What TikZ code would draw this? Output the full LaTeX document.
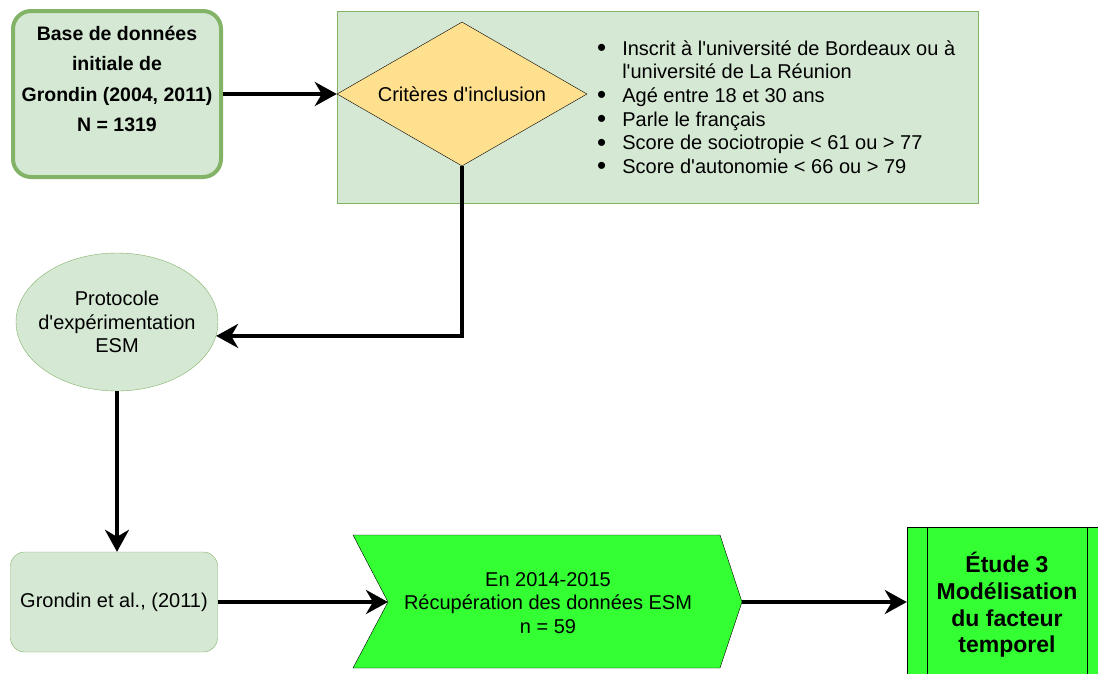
\documentclass[tikz,border=0pt]{standalone}
\usepackage{fontspec}
\setmainfont{Liberation Sans}[Ligatures=TeXOff]
\usepackage{xcolor}
\usetikzlibrary{arrows.meta,shapes.geometric}

\definecolor{paleGreen}{HTML}{D5E8D4}
\definecolor{edgeGreen}{HTML}{82B366}
\definecolor{critYellow}{HTML}{FFE08F}
\definecolor{flashGreen}{HTML}{33FF33}

\newcommand{\critdot}{\raisebox{-1.5pt}{\scalebox{1.3}{\textbullet}}}

\tikzset{
  txt/.style={font=\fontsize{20}{23.6}\selectfont, align=center, inner sep=0pt},
  basebox/.style={draw=edgeGreen, line width=4pt, fill=paleGreen, rounded corners=18pt,
    minimum width=208pt, minimum height=166pt, font=\fontsize{19.5}{30.5}\selectfont\bfseries,
    align=center, inner sep=0pt},
  panel/.style={draw=edgeGreen, fill=paleGreen, minimum width=641pt, minimum height=192pt, inner sep=0pt},
  critbox/.style={txt, diamond, draw, fill=critYellow, shape aspect=1.74,
    minimum width=250pt, minimum height=144pt},
  protobox/.style={txt, ellipse, draw=edgeGreen, fill=paleGreen, inner xsep=-8pt,
    minimum width=202pt, minimum height=138pt},
  roundbox/.style={txt, draw=edgeGreen, fill=paleGreen, rounded corners=14pt,
    minimum width=207pt, minimum height=100pt},
  chevron/.style={draw, fill=flashGreen},
  procbox/.style={draw, fill=flashGreen, minimum width=200pt, minimum height=156pt,
    font=\fontsize{23}{26.7}\selectfont\bfseries, align=center, inner sep=0pt},
  flow/.style={line width=4pt, -{Stealth[length=22pt, width=24pt, inset=7pt]}}
}

\begin{document}
\begin{tikzpicture}
                \tikzset{x={(1pt, 0pt)}, y={(0pt, -1pt)}}
                \useasboundingbox (0, 0) rectangle (1098, 673);
                \node[basebox] (base) at (117, 94) {Base de données\\initiale de\\Grondin (2004, 2011)\\N = 1319\\\mbox{}};
                \node[panel] (panel) at (657.5, 107) {};
                \node[critbox] (crit) at (462, 94) {Critères d'inclusion};
                \node[txt, anchor=north west] (critlist) at (597, 38.5) {%
                  \begin{tabular}{@{}l@{\hspace{16pt}}l@{}}
                    \critdot & Inscrit à l'université de Bordeaux ou à\\
                             & l'université de La Réunion\\
                    \critdot & Agé entre 18 et 30 ans\\
                    \critdot & Parle le français\\
                    \critdot & Score de sociotropie < 61 ou > 77\\
                    \critdot & Score d'autonomie < 66 ou > 79
                  \end{tabular}};
                \node[protobox] (esm) at (117, 322) {Protocole\\d'expérimentation\\ESM};
                \node[roundbox] (grondin) at (114, 602) {Grondin et al., (2011)};
                \draw[chevron] (353, 535) -- (720, 535) -- (742, 602) -- (720, 668) -- (353, 668) -- (388, 602) -- cycle;
                \coordinate (notch) at (388, 602);
                \coordinate (tip) at (742, 602);
                \node[txt] (recup) at (548, 603) {En 2014-2015\\Récupération des données ESM\\n = 59};
                \node[procbox] (etude) at (1007, 605) {Étude 3\\Modélisation\\du facteur\\temporel};
                \draw ([xshift=20pt]etude.north west) -- ([xshift=20pt]etude.south west);
                \draw ([xshift=-20pt]etude.north east) -- ([xshift=-20pt]etude.south east);
                \draw[flow] (base) -- (crit);
                \draw[flow] (crit.south) |- (esm.-8);
                \draw[flow] (esm.south) -- (esm.south |- grondin.north);
                \draw[flow] (grondin) -- (notch);
                \draw[flow] (tip) -- (tip -| etude.west);
            \end{tikzpicture}
\end{document}
